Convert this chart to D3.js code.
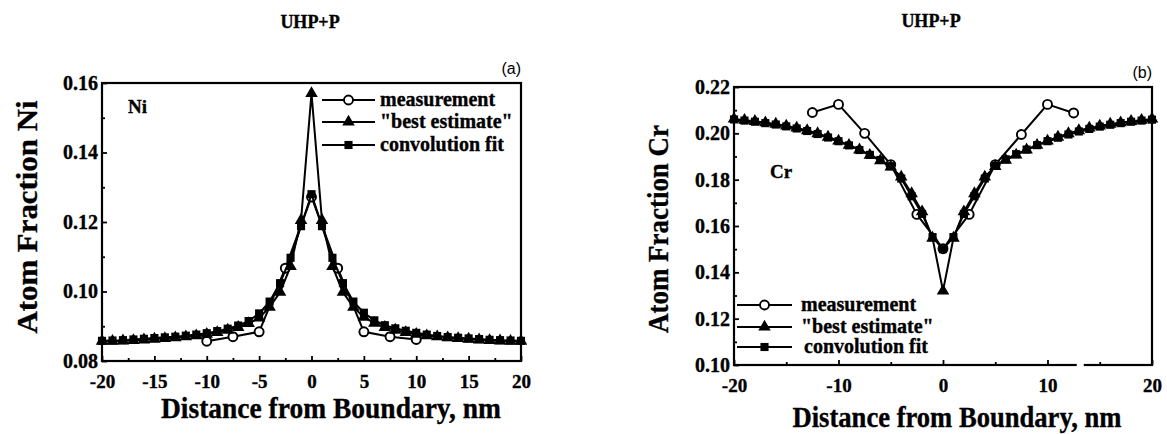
<!DOCTYPE html>
<html>
<head>
<meta charset="utf-8">
<script src="https://cdn.jsdelivr.net/npm/d3@7"></script>
<style>
  body { margin: 0; background: #fff; }
  svg text { font-family: 'Liberation Serif', 'Times New Roman', serif; font-weight: bold; fill: #000; }
  svg text.heavy { stroke: #000; stroke-width: 0.35px; }
</style>
</head>
<body>
<svg id="chart" width="1167" height="434"></svg>
<script>
// distance from boundary, nm (1 nm steps for the model curves)
const fitDist = [-20, -19, -18, -17, -16, -15, -14, -13, -12, -11, -10, -9, -8, -7, -6, -5, -4, -3, -2, -1,
  0, 1, 2, 3, 4, 5, 6, 7, 8, 9, 10, 11, 12, 13, 14, 15, 16, 17, 18, 19, 20];

// panel (a): Ni
const niMeasDist = [-10, -7.5, -5, -2.5, 0, 2.5, 5, 7.5, 10];
const niMeas = [0.0857, 0.0870, 0.0884, 0.1067, 0.1272, 0.1067, 0.0884, 0.0870, 0.0862];
const niBest = [0.0857, 0.0857, 0.0858, 0.0859, 0.0861, 0.0863, 0.0865, 0.0867, 0.0870, 0.0873,
  0.0877, 0.0882, 0.0889, 0.0897, 0.0908, 0.0924, 0.0955, 0.0998, 0.1072, 0.1205,
  0.1570,
  0.1205, 0.1072, 0.0998, 0.0955, 0.0926, 0.0909, 0.0897, 0.0889, 0.0882, 0.0877,
  0.0873, 0.0870, 0.0867, 0.0865, 0.0863, 0.0861, 0.0859, 0.0858, 0.0857, 0.0857];
const niFit = [0.0858, 0.0859, 0.0860, 0.0862, 0.0864, 0.0866, 0.0868, 0.0870, 0.0873, 0.0876,
  0.0880, 0.0886, 0.0893, 0.0902, 0.0915, 0.0937, 0.0971, 0.1024, 0.1097, 0.1188,
  0.1280,
  0.1188, 0.1097, 0.1024, 0.0971, 0.0939, 0.0917, 0.0903, 0.0894, 0.0887, 0.0881,
  0.0876, 0.0872, 0.0869, 0.0867, 0.0865, 0.0863, 0.0861, 0.0860, 0.0859, 0.0858];
const niYTicks = [0.08, 0.10, 0.12, 0.14, 0.16];
const niYMinor = [0.09, 0.11, 0.13, 0.15];
const niXTicks = [-20, -15, -10, -5, 0, 5, 10, 15, 20];
const niXMinor = [-17.5, -12.5, -7.5, -2.5, 2.5, 7.5, 12.5, 17.5];

// panel (b): Cr
const crMeasDist = [-12.5, -10, -7.5, -5, -2.5, 0, 2.5, 5, 7.5, 10, 12.5];
const crMeas = [0.2090, 0.2125, 0.2000, 0.1865, 0.1650, 0.1502, 0.1650, 0.1865, 0.1995, 0.2125, 0.2088];
const crBest = [0.2062, 0.2057, 0.2052, 0.2046, 0.2040, 0.2032, 0.2023, 0.2012, 0.1999, 0.1984,
  0.1967, 0.1949, 0.1929, 0.1906, 0.1882, 0.1855, 0.1812, 0.1740, 0.1662, 0.1548,
  0.1320,
  0.1548, 0.1662, 0.1740, 0.1812, 0.1857, 0.1884, 0.1907, 0.1929, 0.1949, 0.1967,
  0.1984, 0.1999, 0.2012, 0.2023, 0.2032, 0.2040, 0.2046, 0.2052, 0.2057, 0.2062];
const crFit = [0.2060, 0.2055, 0.2050, 0.2044, 0.2038, 0.2030, 0.2021, 0.2010, 0.1997, 0.1982,
  0.1966, 0.1948, 0.1928, 0.1907, 0.1885, 0.1858, 0.1805, 0.1728, 0.1652, 0.1552,
  0.1500,
  0.1552, 0.1652, 0.1728, 0.1805, 0.1860, 0.1888, 0.1910, 0.1930, 0.1949, 0.1966,
  0.1981, 0.1995, 0.2008, 0.2019, 0.2029, 0.2037, 0.2044, 0.2050, 0.2055, 0.2059];
const crYTicks = [0.10, 0.12, 0.14, 0.16, 0.18, 0.20, 0.22];
const crYMinor = [0.11, 0.13, 0.15, 0.17, 0.19, 0.21];
const crXTicks = [-20, -10, 0, 10, 20];
const crXMinor = [-15, -5, 5, 15];

const legendLabels = ['measurement', '"best estimate"', 'convolution fit'];

const svg = d3.select('#chart');
svg.append('rect').attr('width', 1167).attr('height', 434).attr('fill', '#fff');

const triangle = d3.symbol().type(d3.symbolTriangle).size(68);
const square = d3.symbol().type(d3.symbolSquare).size(66);
// plain hyphen for negatives, like the original figure
const xFmt = (d) => String(d);

function drawPanel(p) {
  const x = d3.scaleLinear().domain([-20, 20]).range([p.left, p.right]);
  const y = d3.scaleLinear().domain(p.yDomain).range([p.bottom, p.top]);
  const g = svg.append('g');

  // y axis: major + minor ticks pointing inward
  const yAx = g.append('g')
    .attr('transform', `translate(${p.left},0)`)
    .call(d3.axisLeft(y).tickValues(p.yTicks).tickSize(-5).tickPadding(4).tickFormat(d3.format('.2f')));
  const yMin = g.append('g')
    .attr('transform', `translate(${p.left},0)`)
    .call(d3.axisLeft(y).tickValues(p.yMinor).tickSize(-3).tickFormat(''));

  const xAx = g.append('g')
    .attr('transform', `translate(0,${p.bottom})`)
    .call(d3.axisBottom(x).tickValues(p.xTicks).tickSize(-5).tickPadding(14).tickFormat(xFmt));
  const xMin = g.append('g')
    .attr('transform', `translate(0,${p.bottom})`)
    .call(d3.axisBottom(x).tickValues(p.xMinor).tickSize(-3).tickFormat(''));

  [yAx, yMin, xAx, xMin].forEach((a) => {
    a.select('.domain').remove();
    a.selectAll('line').attr('stroke', '#000').attr('stroke-width', 1.8);
    a.selectAll('text')
      .attr('class', 'heavy')
      .attr('fill', '#000')
      .style('font-family', "'Liberation Serif', serif")
      .style('font-weight', 'bold');
  });
  yAx.selectAll('text').style('font-size', '20px');
  xAx.selectAll('text').style('font-size', '19px');

  // frame
  g.append('rect')
    .attr('x', p.left).attr('y', p.top)
    .attr('width', p.right - p.left).attr('height', p.bottom - p.top)
    .attr('fill', 'none').attr('stroke', '#000').attr('stroke-width', 2.2);

  const line = d3.line().x((d) => x(d[0])).y((d) => y(d[1]));
  const fit = d3.zip(fitDist, p.fit);
  const best = d3.zip(fitDist, p.best);
  const meas = d3.zip(p.measDist, p.meas);

  const series = g.append('g');
  // measurement underneath, so the point at 0 hides under the model markers
  series.append('path').datum(meas).attr('d', line)
    .attr('fill', 'none').attr('stroke', '#000').attr('stroke-width', 2);
  series.selectAll('.circ').data(meas).join('circle').attr('class', 'circ')
    .attr('cx', (d) => x(d[0])).attr('cy', (d) => y(d[1])).attr('r', 4.5)
    .attr('fill', '#fff').attr('stroke', '#000').attr('stroke-width', 1.9);

  series.append('path').datum(fit).attr('d', line)
    .attr('fill', 'none').attr('stroke', '#000').attr('stroke-width', 2);
  series.selectAll('.sq').data(fit).join('path').attr('class', 'sq')
    .attr('transform', (d) => `translate(${x(d[0])},${y(d[1])})`)
    .attr('d', square).attr('fill', '#000');

  series.append('path').datum(best).attr('d', line)
    .attr('fill', 'none').attr('stroke', '#000').attr('stroke-width', 2);
  series.selectAll('.tri').data(best).join('path').attr('class', 'tri')
    .attr('transform', (d) => `translate(${x(d[0])},${y(d[1])})`)
    .attr('d', triangle).attr('fill', '#000');

  // legend
  const lg = g.append('g');
  legendLabels.forEach((label, i) => {
    const ly = p.legend.rows[i];
    lg.append('line')
      .attr('x1', p.legend.x1).attr('x2', p.legend.x2)
      .attr('y1', ly).attr('y2', ly)
      .attr('stroke', '#000').attr('stroke-width', 2);
    const mx = (p.legend.x1 + p.legend.x2) / 2;
    if (i === 0) {
      lg.append('circle').attr('cx', mx).attr('cy', ly).attr('r', 4.5)
        .attr('fill', '#fff').attr('stroke', '#000').attr('stroke-width', 1.9);
    } else {
      lg.append('path').attr('transform', `translate(${mx},${ly})`)
        .attr('d', i === 1 ? triangle : square).attr('fill', '#000');
    }
    lg.append('text').attr('class', 'heavy')
      .attr('x', p.legend.tx + (i === 2 ? p.legend.shift : 0)).attr('y', ly + 6)
      .style('font-size', '20px')
      .text(label);
  });

  // element label inside the plot
  g.append('text').attr('class', 'heavy').attr('x', p.elem.x).attr('y', p.elem.y)
    .style('font-size', '19px').text(p.elem.text);

  // panel letter
  g.append('text').attr('x', p.right).attr('y', p.top - 9)
    .attr('text-anchor', 'end')
    .style('font-family', "'Liberation Sans', Arial, sans-serif")
    .style('font-weight', 'normal').style('font-size', '16px')
    .text(p.letter);

  // title
  g.append('text').attr('class', 'heavy').attr('x', p.title.x).attr('y', p.title.y)
    .attr('text-anchor', 'middle').style('font-size', '18px').text('UHP+P');

  // axis titles
  g.append('text').attr('class', 'heavy')
    .attr('transform', `translate(${p.ylab.x},${p.ylab.y}) rotate(-90)`)
    .attr('text-anchor', 'middle')
    .attr('textLength', p.ylab.len).attr('lengthAdjust', 'spacingAndGlyphs')
    .style('font-size', '29px').text(p.ylab.text);
  g.append('text').attr('class', 'heavy')
    .attr('x', p.xlab.x).attr('y', p.xlab.y)
    .attr('text-anchor', 'middle')
    .attr('textLength', p.xlab.len).attr('lengthAdjust', 'spacingAndGlyphs')
    .style('font-size', '29px').text('Distance from Boundary, nm');

  return { x, y, g };
}

drawPanel({
  left: 102, right: 521, top: 83, bottom: 361,
  yDomain: [0.08, 0.16], yTicks: niYTicks, yMinor: niYMinor,
  xTicks: niXTicks, xMinor: niXMinor,
  fit: niFit, best: niBest, measDist: niMeasDist, meas: niMeas,
  legend: { x1: 322, x2: 375, tx: 380, shift: 0, rows: [100, 122, 145] },
  elem: { x: 128, y: 113, text: 'Ni' },
  letter: '(a)',
  title: { x: 310, y: 28 },
  ylab: { x: 37, y: 217, len: 233, text: 'Atom Fraction Ni' },
  xlab: { x: 331, y: 418, len: 340 }
});

const right = drawPanel({
  left: 734, right: 1152, top: 87, bottom: 365,
  yDomain: [0.10, 0.22], yTicks: crYTicks, yMinor: crYMinor,
  xTicks: crXTicks, xMinor: crXMinor,
  fit: crFit, best: crBest, measDist: crMeasDist, meas: crMeas,
  legend: { x1: 737, x2: 792, tx: 801, shift: 3, rows: [305, 327, 347] },
  elem: { x: 770, y: 178, text: 'Cr' },
  letter: '(b)',
  title: { x: 931, y: 27 },
  ylab: { x: 668, y: 229, len: 208, text: 'Atom Fraction Cr' },
  xlab: { x: 957, y: 427, len: 329 }
});

// small break in the scanned bottom axis of panel (b)
right.g.append('rect')
  .attr('x', right.x(12.8)).attr('y', 362)
  .attr('width', 7).attr('height', 6)
  .attr('fill', '#fff');
</script>
</body>
</html>
